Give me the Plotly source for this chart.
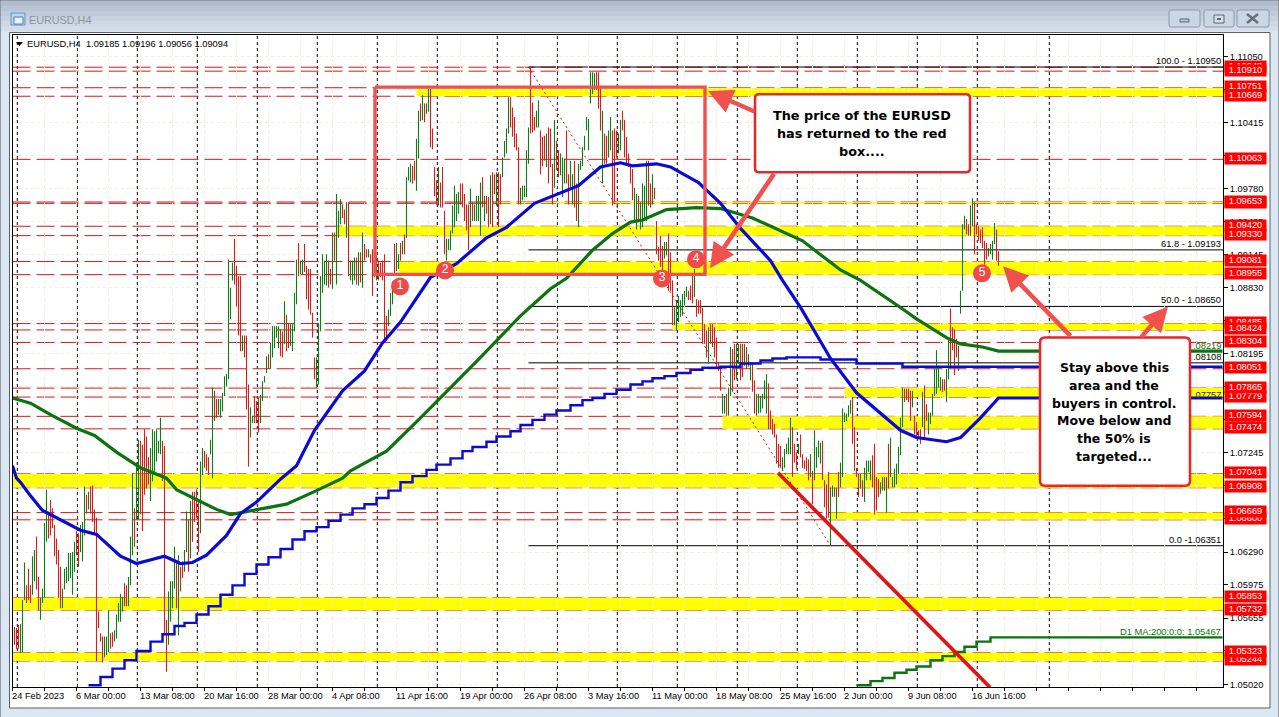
import plotly.graph_objects as go

W, H = 1279, 717
H_PAPER = 713.0
PLOT_L, PLOT_R, PLOT_T, PLOT_B = 12.5, 1223.0, 35.0, 686.0
FONT = "Liberation Sans"
TXT = 9.3

# ---- OHLC-derived data, prices in 1/10000 units, one entry per H4 bar ----
bar_high = [
 10559,10557,10556,10559,10560,10583,10619,10597,10613,10597,
 10625,10631,10644,10605,10585,10594,10657,10689,10668,10679,
 10671,10655,10642,10631,10615,10594,10613,10615,10628,10628,
 10629,10639,10649,10647,10655,10658,10692,10684,10687,10692,
 10693,10670,10662,10572,10551,10548,10548,10548,10573,10551,
 10552,10554,10569,10580,10589,10586,10599,10597,10605,10644,
 10705,10671,10715,10737,10736,10732,10747,10740,10720,10729,
 10747,10745,10747,10736,10758,10736,10731,10564,10591,10601,
 10601,10634,10621,10626,10615,10620,10631,10668,10660,10678,
 10687,10687,10689,10678,10716,10729,10726,10723,10720,10737,
 10787,10784,10776,10776,10776,10782,10798,10800,10910,10883,
 10907,10930,10904,10894,10894,10837,10837,10837,10790,10768,
 10760,10779,10774,10777,10780,10793,10798,10817,10819,10830,
 10846,10846,10846,10846,10843,10841,10870,10857,10849,10848,
 10848,10878,10910,10926,10909,10910,10925,10904,10901,10901,
 10859,10816,10816,10849,10894,10915,10909,10915,10909,10901,
 10936,10936,10973,10957,10968,10963,10958,10965,10965,10909,
 10909,10912,10912,10917,10917,10936,10925,10920,10920,10915,
 10920,10914,10914,10909,10907,10909,10915,10856,10862,10878,
 10889,10925,10926,10915,10926,10928,10934,10989,10999,11002,
 11000,11005,11026,11053,11060,11068,11060,11060,11074,11074,
 11036,10999,10986,10999,10984,10999,10957,10930,10930,10938,
 10962,10981,10973,10975,10983,10983,10973,10963,10963,10978,
 10965,10963,10971,10971,10984,10989,10971,10971,10970,10991,
 10994,10992,10994,10994,10992,11008,11024,11036,11066,11066,
 11056,11047,11031,11018,10979,10981,10981,11015,11037,11095,
 11061,11047,11053,11063,11034,11028,11029,11031,11037,11036,
 11002,11044,11024,11015,11012,11008,11007,11034,10992,11005,
 10992,11005,10983,11002,11005,11018,11029,11047,11045,11090,
 11090,11089,11090,11090,11077,11053,11031,11029,11034,11047,
 11034,11036,11034,11031,11044,11053,11044,11028,11012,10999,
 10997,10979,10973,10971,10965,10983,10981,11005,11005,10983,
 10992,10979,10947,10922,10933,10923,10927,10927,10935,10917,
 10890,10864,10871,10875,10871,10877,10880,10884,10880,10885,
 10895,10901,10872,10871,10871,10864,10848,10842,10845,10848,
 10848,10845,10835,10811,10807,10781,10779,10781,10787,10826,
 10824,10829,10829,10829,10829,10829,10829,10826,10819,10811,
 10811,10794,10781,10781,10779,10781,10794,10800,10791,10765,
 10757,10752,10742,10733,10731,10720,10728,10733,10739,10758,
 10749,10733,10725,10733,10742,10723,10717,10720,10718,10723,
 10707,10746,10730,10736,10734,10736,10698,10694,10706,10691,
 10693,10691,10691,10706,10715,10767,10763,10762,10770,10775,
 10778,10749,10710,10704,10704,10698,10710,10717,10717,10717,
 10722,10733,10701,10699,10696,10701,10701,10701,10733,10739,
 10701,10709,10714,10730,10758,10787,10786,10786,10786,10784,
 10784,10760,10754,10746,10747,10783,10789,10771,10763,10763,
 10781,10807,10823,10807,10797,10795,10795,10805,10835,10863,
 10845,10843,10834,10827,10880,10944,10952,10949,10944,10962,
 10969,10965,10944,10942,10939,10941,10928,10926,10921,10925,
 10928,10945,10939,10918]
bar_low = [
 10535,10540,10536,10536,10532,10533,10583,10580,10583,10580,
 10588,10601,10593,10573,10564,10580,10585,10639,10642,10645,
 10652,10625,10617,10585,10575,10575,10593,10599,10601,10604,
 10588,10610,10626,10615,10629,10620,10645,10666,10670,10666,
 10658,10647,10524,10556,10543,10523,10528,10530,10533,10536,
 10538,10543,10546,10562,10562,10572,10577,10577,10577,10597,
 10626,10634,10660,10660,10665,10649,10684,10690,10694,10678,
 10697,10705,10716,10724,10723,10697,10549,10514,10540,10562,
 10575,10594,10575,10549,10591,10604,10610,10629,10610,10623,
 10639,10658,10662,10629,10647,10703,10710,10707,10703,10723,
 10700,10755,10758,10761,10758,10764,10779,10788,10795,10853,
 10890,10886,10865,10837,10822,10822,10816,10766,10711,10739,
 10753,10753,10753,10744,10753,10774,10792,10801,10805,10805,
 10816,10825,10835,10825,10817,10816,10829,10822,10825,10827,
 10822,10841,10867,10894,10896,10896,10898,10872,10862,10857,
 10835,10795,10787,10790,10841,10878,10886,10885,10883,10886,
 10882,10909,10886,10931,10944,10950,10944,10931,10894,10890,
 10886,10890,10886,10885,10888,10883,10909,10912,10912,10907,
 10875,10893,10890,10890,10893,10890,10832,10832,10846,10856,
 10867,10895,10899,10901,10909,10915,10915,10931,10986,10984,
 10983,10986,10976,11007,11043,11044,11042,11050,11052,11018,
 11016,10971,10963,10962,10960,10960,10915,10909,10919,10919,
 10935,10941,10947,10954,10963,10960,10947,10938,10919,10941,
 10947,10947,10947,10947,10933,10960,10947,10954,10941,10944,
 10941,10973,10962,10941,10963,10989,11008,11012,11031,11037,
 11028,11018,11015,10963,10963,10967,10970,10970,11002,11031,
 11032,11034,11037,11037,10992,11000,11005,10999,10983,10999,
 10963,10979,10996,10989,10991,10970,10983,10983,10963,10979,
 10963,10960,10947,10941,10996,11000,11015,11034,11015,11060,
 11069,11073,11073,11055,11034,10983,11002,11002,11008,11015,
 10962,10965,11008,11012,11015,11034,11008,11002,10999,10983,
 10967,10947,10939,10947,10939,10941,10947,10947,10962,10960,
 10963,10968,10915,10909,10903,10896,10911,10914,10880,10880,
 10847,10847,10842,10850,10855,10856,10866,10874,10871,10871,
 10868,10874,10855,10858,10858,10829,10829,10816,10810,10829,
 10826,10816,10805,10803,10784,10762,10762,10760,10760,10779,
 10783,10794,10795,10810,10794,10797,10808,10805,10807,10794,
 10783,10762,10760,10762,10763,10767,10776,10762,10747,10747,
 10742,10739,10714,10710,10710,10707,10710,10723,10723,10723,
 10701,10715,10709,10723,10720,10710,10709,10707,10698,10701,
 10675,10698,10710,10720,10714,10698,10672,10661,10662,10635,
 10682,10682,10661,10682,10691,10701,10754,10755,10759,10762,
 10733,10707,10701,10682,10690,10682,10677,10698,10706,10698,
 10691,10665,10669,10682,10685,10688,10688,10667,10690,10701,
 10691,10691,10694,10704,10722,10749,10773,10775,10773,10755,
 10768,10742,10739,10739,10733,10749,10739,10755,10742,10752,
 10760,10779,10781,10787,10784,10783,10784,10773,10795,10807,
 10823,10799,10816,10803,10858,10880,10939,10934,10933,10933,
 10942,10915,10934,10928,10926,10921,10905,10910,10913,10915,
 10910,10925,10909,10904]
bar_dir = ("rrrrgggrrr" "ggrrggggrr" "rrrrrggggg" "ggrrgggrgr" "rrrrrrgggr"
           "rgggggrrgg" "grggrrrrrg" "gggggrrrgg" "ggrgrrggrg" "rrrrggrrrg"
           "grrggggggg" "grrrrgrrrg" "grrrggggrg" "ggggrrgrrg" "gggrggrrrr"
           "rrggggggrr" "grgggrrgrg" "ggrgrgrrgr" "rggrrrrrgg" "grggrgrggg"
           "rrggrgrggr" "rrrgrrrggg" "ggggrrrrrg" "rggggrgrrg" "rrgrrggggr"
           "rrrrgggggr" "rrggrrrgrr" "rgrrgggrrg" "grrggggggg" "ggrrrgrrgg"
           "rrrggrrrrr" "rggrggggrr" "grrrrrggrr" "rgggggggrr" "rgrrrrrrgr"
           "rrrrrggrgg" "rrggrrgrgg" "rrggggggrr" "rrrrrggggg" "rrrgrrrrrg"
           "rggggrrrrg" "grgrgggggg" "rrrrgrgggg" "rrrrggrgrg" "ggggggrrrr"
           "grrrrgrrgg" "gggggrrggr" "rrrggggrrg" "grrrrrrrgg" "ggrr")

ma_fast_bar = [0,2,4,9,15,24,34,42,54,62,76,84,90,97,107,114,122,134,142,151,165,176,185,194,204,209,222,237,247,261,283,294,304,310,322,329,343,354,364,379,385,394,409,422,444,452,467,474,484,493,605]
ma_fast_val = [10712,10700,10696,10683,10669,10660,10650,10646,10625,10618,10625,10618,10619,10626,10645,10666,10677,10699,10712,10746,10784,10803,10830,10850,10878,10893,10906,10931,10941,10964,10981,10999,11003,11000,11002,10999,10984,10964,10940,10909,10890,10864,10815,10782,10746,10739,10735,10739,10758,10777,10777]
ma_slow_bar = [0,9,19,32,41,52,64,77,82,94,102,109,122,137,152,165,169,187,204,234,254,269,277,290,300,309,315,327,342,354,370,395,414,424,444,452,467,474,485,493,605]
ma_slow_val = [10777,10772,10761,10748,10741,10725,10710,10700,10689,10678,10670,10665,10670,10675,10688,10700,10707,10726,10758,10816,10856,10882,10892,10919,10935,10946,10948,10958,10960,10959,10950,10928,10900,10890,10864,10853,10835,10829,10826,10822,10822]
d1_ma100_bar = [38,44,50,56,62,69,75,81,86,92,98,104,110,116,122,128,134,140,146,152,158,164,170,176,182,188,194,200,207,212,219,225,230,237,242,249,254,260,266,272,279,285,290,296,302,309,315,320,326,332,339,345,354,364,374,380,387,404,422,445,464,605]
d1_ma100_val = [10501,10509,10517,10525,10534,10543,10550,10558,10561,10569,10577,10588,10597,10608,10617,10624,10632,10641,10649,10653,10659,10665,10671,10675,10681,10688,10696,10702,10708,10713,10719,10726,10730,10735,10740,10745,10751,10756,10761,10765,10770,10775,10777,10781,10785,10790,10793,10796,10798,10801,10804,10806,10807,10810,10813,10815,10816,10814,10810,10807,10807,10807]
d1_ma200_bar = [422,429,435,441,447,452,459,465,471,476,482,489,605]
d1_ma200_val = [10501,10505,10508,10513,10516,10519,10525,10529,10533,10538,10543,10547,10547]

level_prices = [1.10948,1.10910,1.10751,1.10669,1.10063,1.09640,1.09653,1.09420,1.09330,1.09081,1.08955,1.08485,1.08424,1.08304,1.08051,1.07779,1.07865,1.07594,1.07474,1.07041,1.06908,1.06600,1.06669,1.05853,1.05732,1.05244,1.05323]
band_top = [1.10751,1.09653,1.09420,1.09081,1.08485,1.07865,1.07594,1.07041,1.06669,1.05853,1.05323]
band_bot = [1.10669,1.09640,1.09330,1.08955,1.08424,1.07779,1.07474,1.06908,1.06600,1.05732,1.05244]
band_start = [202,242,162,193,330,416,355,0,409,0,0]

fib_prices = [1.10950,1.09193,1.08650,1.08108,1.06351]
fib_labels = ["100.0 - 1.10950","61.8 - 1.09193","50.0 - 1.08650",".08108","0.0 -1.06351"]
fib_start_bar = 258
fib_end_bar = 409

y_ticks = [1.11050,1.10730,1.10415,1.10100,1.09780,1.09465,1.09145,1.08830,1.08510,1.08195,1.07880,1.07560,1.07245,1.06925,1.06610,1.06290,1.05975,1.05655,1.05340,1.05020]
x_label_bars = [0,32,64,96,128,160,192,224,256,288,320,352,384,416,448,480]
x_labels = ["24 Feb 2023","6 Mar 00:00","13 Mar 08:00","20 Mar 16:00","28 Mar 00:00","4 Apr 08:00","11 Apr 16:00","19 Apr 00:00","26 Apr 08:00","3 May 16:00","11 May 00:00","18 May 08:00","25 May 16:00","2 Jun 00:00","9 Jun 08:00","16 Jun 16:00"]
x_grid_bars = list(range(0, 606, 16))
separator_bars = [2.4,32.4,62.4,92.4,122.4,152.4,182.4,212.4,242.4,272.4,302.4,332.4,362.4,392.4,422.4,452.4,482.4,518.4]

marker_bars = [193.75,216.25,324.75,341.75,484.75]
marker_vals = [1.08842,1.08996,1.08919,1.09102,1.08968]
marker_text = ["1","2","3","4","5"]

box_bars = [181.25,346.25,346.25,181.25,181.25]
box_vals = [1.10757,1.10757,1.08958,1.08958,1.10757]
trend_bars = [382.75,488.75]
trend_vals = [1.07052,1.0499]

note1 = ["The price of the EURUSD","has returned to the red","box...."]
note2 = ["Stay above this","area and the","buyers in control.","Move below and","the 50% is","targeted..."]

# ---- helpers ----
def px(x): return x / W
def py(y): return 1 - y / H_PAPER
def rect(x0, y0, x1, y1, fill, line=None, layer="below", lw=1):
    return dict(type="rect", xref="paper", yref="paper", x0=px(x0), x1=px(x1), y0=py(y0), y1=py(y1),
                fillcolor=fill, line=dict(color=line or fill, width=lw if line else 0), layer=layer)
def rounded(x0, y0, x1, y1, r, fill, line, lw):
    p = (f"M{px(x0+r)},{py(y0)} L{px(x1-r)},{py(y0)} Q{px(x1)},{py(y0)} {px(x1)},{py(y0+r)} "
         f"L{px(x1)},{py(y1-r)} Q{px(x1)},{py(y1)} {px(x1-r)},{py(y1)} L{px(x0+r)},{py(y1)} "
         f"Q{px(x0)},{py(y1)} {px(x0)},{py(y1-r)} L{px(x0)},{py(y0+r)} Q{px(x0)},{py(y0)} {px(x0+r)},{py(y0)} Z")
    return dict(type="path", xref="paper", yref="paper", path=p, fillcolor=fill,
                line=dict(color=line, width=lw), layer="above")

shapes, ann = [], []

# window chrome
shapes.append(rect(0, 0, W, H, "#dbe6f3", "#4d5359", lw=1))
for i, c in enumerate(["#aebccb","#b7c5d4","#bfcbda","#c6d2df","#cdd8e4","#d3dde9"]):
    shapes.append(rect(1, 1 + i * 5, W - 1, 6 + i * 5, c))
shapes.append(rect(9.5, 32.5, 1270, 707, "#ffffff", "#5a5f66", lw=1))
for x0, x1 in [(1169, 1200), (1204, 1234), (1237, 1269)]:
    shapes.append(rounded(x0, 10, x1, 27, 2, "#c9d6e3", "#8d9aa8", 1))
shapes.append(rect(1180, 19, 1189, 22, "#b8c4d0", "#5f6a75", layer="above"))
shapes.append(rect(1214, 15, 1224, 23, "#d4dee8", "#5f6a75", layer="above"))
shapes.append(rect(1217, 18, 1221, 20, "#5f6a75", layer="above"))
for a, b in [((1247, 14), (1258, 23)), ((1258, 14), (1247, 23))]:
    shapes.append(dict(type="line", xref="paper", yref="paper", x0=px(a[0]), y0=py(a[1]), x1=px(b[0]), y1=py(b[1]),
                       line=dict(color="#66707b", width=2.5), layer="above"))
shapes.append(rect(11, 13, 25, 25, "#bcd3ea", "#6f93b8", layer="above"))
shapes.append(rect(14, 17, 23, 24, "#e8f0f8", "#4f82b3", layer="above"))
shapes.append(dict(type="path", xref="paper", yref="paper", layer="above", fillcolor="#000000", line=dict(width=0),
                   path=f"M{px(16)},{py(42)} L{px(23)},{py(42)} L{px(19.5)},{py(46)} Z"))

# yellow bands and dashed levels
for t, b, s in zip(band_top, band_bot, band_start):
    shapes.append(dict(type="rect", xref="x", yref="y", x0=s, x1=605.25, y0=b, y1=t,
                       fillcolor="#ffff00", line=dict(width=0), layer="below"))
for s in separator_bars:
    shapes.append(dict(type="line", xref="x", yref="paper", x0=s, x1=s, y0=py(PLOT_B), y1=py(PLOT_T),
                       line=dict(color="#000000", width=1, dash="3px,3px"), layer="below"))
for p in level_prices:
    shapes.append(dict(type="line", xref="paper", yref="y", x0=px(PLOT_L), x1=px(PLOT_R), y0=p, y1=p,
                       line=dict(color="#d0191c", width=1, dash="18px,6px"), layer="below"))
for p in fib_prices:
    shapes.append(dict(type="line", xref="x", yref="y", x0=fib_start_bar, x1=605.25, y0=p, y1=p,
                       line=dict(color="#000000", width=1), layer="below"))

# callouts
shapes.append(rounded(755, 94, 970, 172, 4, "#ffffff", "#e8262a", 2.5))
shapes.append(rounded(1040, 337, 1190, 485, 5, "#ffffff", "#e8262a", 2.5))

fig = go.Figure()

# fib diagonal
fig.add_trace(go.Scatter(x=[fib_start_bar, fib_end_bar], y=[fib_prices[0], fib_prices[-1]], mode="lines",
                         line=dict(color="#d0191c", width=1, dash="2px,3px"), hoverinfo="skip"))
# bars
for code, col in (("g", "#0f7d14"), ("r", "#d2201f")):
    xs, ys = [], []
    for i, (hi, lo, d) in enumerate(zip(bar_high, bar_low, bar_dir)):
        if d == code:
            xs += [i, i, None]
            ys += [hi / 10000, lo / 10000, None]
    fig.add_trace(go.Scatter(x=xs, y=ys, mode="lines", line=dict(color=col, width=1.1), hoverinfo="skip"))

fig.add_trace(go.Scatter(x=ma_slow_bar, y=[v / 10000 for v in ma_slow_val], mode="lines",
                         line=dict(color="#0b730f", width=3.2), hoverinfo="skip"))
fig.add_trace(go.Scatter(x=ma_fast_bar, y=[v / 10000 for v in ma_fast_val], mode="lines",
                         line=dict(color="#0a0ad6", width=3.2), hoverinfo="skip"))
fig.add_trace(go.Scatter(x=d1_ma100_bar, y=[v / 10000 for v in d1_ma100_val], mode="lines",
                         line=dict(color="#0a0ad6", width=2.4, shape="hv"), hoverinfo="skip"))
fig.add_trace(go.Scatter(x=d1_ma200_bar, y=[v / 10000 for v in d1_ma200_val], mode="lines",
                         line=dict(color="#0b730f", width=2.4, shape="hv"), hoverinfo="skip"))
fig.add_trace(go.Scatter(x=trend_bars, y=trend_vals, mode="lines", line=dict(color="#e01414", width=3.6), hoverinfo="skip"))
fig.add_trace(go.Scatter(x=box_bars, y=box_vals, mode="lines", line=dict(color="#f0504e", width=3.4), hoverinfo="skip"))
fig.add_trace(go.Scatter(x=marker_bars, y=marker_vals, mode="markers+text", text=marker_text, textposition="middle center",
                         marker=dict(color="#ef4a4a", size=18), textfont=dict(color="#ffffff", family=FONT, size=12),
                         hoverinfo="skip"))

# header and title texts
def label(x, y, text, size=TXT, color="#000000", anchor="left", bold=False, family=FONT):
    t = f"<b>{text}</b>" if bold else text
    ann.append(dict(xref="paper", yref="paper", x=px(x), y=py(y), text=t, showarrow=False, xanchor=anchor,
                    yanchor="middle", font=dict(family=family, size=size, color=color), borderpad=0, borderwidth=0))
label(29, 20, "EURUSD,H4", size=10.8, color="#8b949e")
label(27, 44, "EURUSD,H4&nbsp;&nbsp;1.09185 1.09196 1.09056 1.09094")

# fib labels
for p, t in zip(fib_prices, fib_labels):
    ann.append(dict(xref="paper", yref="y", x=px(1222), y=p, yshift=6, text=t, showarrow=False, xanchor="right",
                    yanchor="middle", font=dict(family=FONT, size=TXT, color="#000000"), borderpad=0))
for p, t, c in [(1.08270, ".08219", "#0b730f"), (1.07800, ".07757", "#333300"), (1.05520, "D1 MA:200:0:0: 1.05467", "#0b730f")]:
    ann.append(dict(xref="paper", yref="y", x=px(1222), y=p, text=t, showarrow=False, xanchor="right",
                    yanchor="middle", font=dict(family=FONT, size=TXT, color=c), borderpad=0))

# time axis labels
for b, t in zip(x_label_bars, x_labels):
    ann.append(dict(xref="x", yref="paper", x=b, y=py(695), text=t, showarrow=False, xanchor="left", xshift=-2,
                    yanchor="middle", font=dict(family=FONT, size=TXT, color="#000000"), borderpad=0))

# red price labels
for p in level_prices:
    ann.append(dict(xref="paper", yref="y", x=px(1245.5), y=p, yshift=1, text=f"{p:.5f}", showarrow=False,
                    xanchor="center", yanchor="middle", width=41, height=10.5, bgcolor="#ff0000", borderpad=0,
                    font=dict(family=FONT, size=TXT, color="#ffffff")))

# arrows
for hx, hy, tx, ty in [(708, 91, 756, 112), (710, 268, 775, 172), (1003, 266, 1072, 337), (1168, 306, 1140, 338)]:
    ann.append(dict(xref="paper", yref="paper", x=px(hx), y=py(hy), axref="pixel", ayref="pixel", ax=tx - hx, ay=ty - hy,
                    text="", showarrow=True, arrowhead=2, arrowsize=1.1, arrowwidth=4.5, arrowcolor="#f0504e", standoff=0))

# callout text
for i, t in enumerate(note1):
    label(862, 115 + i * 18.3, t, size=12.8, anchor="center", bold=True, family="DejaVu Sans")
for i, t in enumerate(note2):
    label(1114, 366.7 + i * 17.9, t, size=12.5, anchor="center", bold=True, family="DejaVu Sans")

fig.update_layout(
    width=W, height=H, autosize=False, showlegend=False,
    margin=dict(l=0, r=0, t=0, b=0, pad=0),
    paper_bgcolor="#dbe6f3", plot_bgcolor="#ffffff",
    shapes=shapes, annotations=ann,
    xaxis=dict(domain=[px(PLOT_L), px(PLOT_R)], range=[0, (PLOT_R - PLOT_L) / 2], tickmode="array",
               tickvals=x_grid_bars, ticktext=[""] * len(x_grid_bars), showticklabels=False, ticks="outside", ticklen=3,
               tickcolor="#000000", showgrid=True, gridcolor="#f2eee0", griddash="3px,3px", gridwidth=1,
               showline=True, linecolor="#000000", linewidth=1, mirror=True, zeroline=False, fixedrange=True),
    yaxis=dict(domain=[py(PLOT_B), py(PLOT_T)], range=[1.04994, 1.11257], side="right", tickmode="array",
               tickvals=y_ticks, ticktext=[f"{v:.5f}" for v in y_ticks], ticks="outside", ticklen=4, tickcolor="#000000",
               tickfont=dict(family=FONT, size=TXT, color="#000000"), showgrid=True, gridcolor="#f2eee0",
               griddash="3px,3px", gridwidth=1, showline=True, linecolor="#000000", linewidth=1, mirror=True,
               zeroline=False, fixedrange=True),
)
fig.write_html("out.html", config=dict(displayModeBar=False),
               post_script=("var d=document.documentElement,b=document.body;"
                            "d.style.margin='0';d.style.height='717px';d.style.overflow='hidden';"
                            "b.style.margin='0';b.style.height='717px';b.style.overflow='hidden';"))
